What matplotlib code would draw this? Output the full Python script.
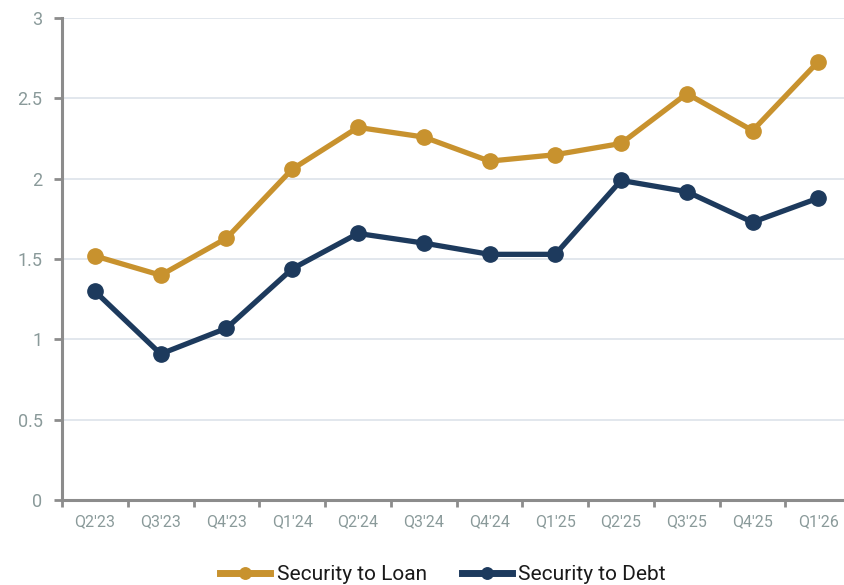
import numpy as np
import matplotlib.pyplot as plt
from matplotlib.ticker import FixedLocator

# Data
quarters = ["Q2'23", "Q3'23", "Q4'23", "Q1'24", "Q2'24", "Q3'24",
            "Q4'24", "Q1'25", "Q2'25", "Q3'25", "Q4'25", "Q1'26"]
security_to_loan = [1.52, 1.40, 1.63, 2.06, 2.32, 2.26, 2.11, 2.15, 2.22, 2.53, 2.30, 2.73]
security_to_debt = [1.30, 0.91, 1.07, 1.44, 1.66, 1.60, 1.53, 1.53, 1.99, 1.92, 1.73, 1.88]

gold = '#C8922E'
navy = '#1D3A5D'

plt.rcParams['font.family'] = ['Roboto', 'DejaVu Sans']

fig = plt.figure(figsize=(8.45, 5.85), dpi=100)
ax = fig.add_axes([0.0734, 0.145, 0.934, 0.824])

x = np.arange(len(quarters))
ax.plot(x, security_to_loan, color=gold, lw=3.8, marker='o', ms=11,
        label='Security to Loan', zorder=3)
ax.plot(x, security_to_debt, color=navy, lw=3.8, marker='o', ms=11,
        label='Security to Debt', zorder=3)

ax.set_xlim(-0.5, len(quarters) - 0.5)
ax.set_ylim(0, 3)
ax.set_yticks([0, 0.5, 1, 1.5, 2, 2.5, 3])
ax.set_yticklabels(['0', '0.5', '1', '1.5', '2', '2.5', '3'])
ax.set_xticks(x)
ax.set_xticklabels(quarters)
ax.xaxis.set_minor_locator(FixedLocator(np.arange(-0.5, len(quarters), 1)))

ax.grid(axis='y', color='#DDE3EA', lw=1.2, zorder=0)
ax.set_axisbelow(True)

for s in ['top', 'right']:
    ax.spines[s].set_visible(False)
for s in ['left', 'bottom']:
    ax.spines[s].set_color('#8C8C8C')
    ax.spines[s].set_linewidth(2.2)

ax.tick_params(axis='x', which='major', length=0, pad=10, labelsize=11.5, labelcolor='#8A9A9A')
ax.tick_params(axis='x', which='minor', length=5, width=2, color='#8C8C8C')
ax.tick_params(axis='y', length=6, width=2, color='#8C8C8C', pad=8, labelsize=13, labelcolor='#8A9A9A')

leg = ax.legend(loc='center', bbox_to_anchor=(0.483, -0.155), ncol=2, frameon=False,
                fontsize=15, handlelength=2.4, columnspacing=1.7, handletextpad=0.3,
                markerscale=0.75)
for h in leg.get_lines():
    h.set_linewidth(5)
for t in leg.get_texts():
    t.set_color('#1A1A1A')

fig.savefig('out.png', dpi=100)
